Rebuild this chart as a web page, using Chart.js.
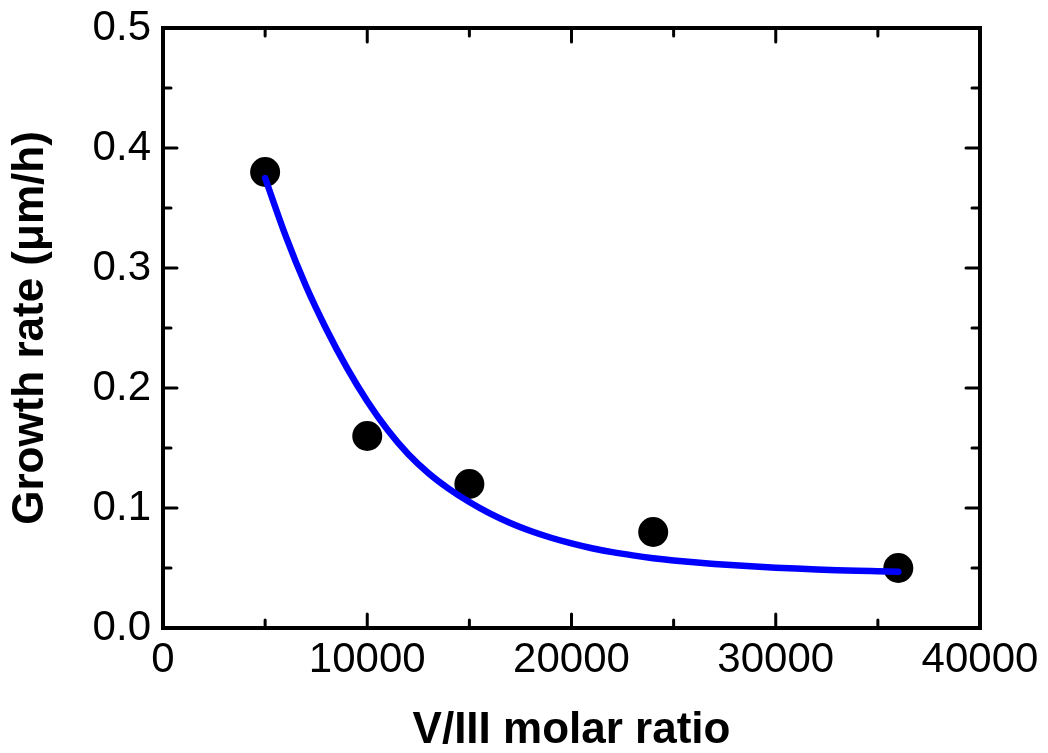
<!DOCTYPE html>
<html>
<head>
<meta charset="utf-8">
<script src="https://cdn.jsdelivr.net/npm/chart.js@4.4.1/dist/chart.umd.min.js"></script>
<style>
  html, body { margin: 0; padding: 0; background: #ffffff; }
  #wrap { width: 1048px; height: 753px; position: relative; }
</style>
</head>
<body>
<div id="wrap"><canvas id="c" width="1048" height="753"></canvas></div>
<script>
// Measured data points
const ratioX = [5000, 10000, 15000, 24000, 36000];
const growthY = [0.38, 0.16, 0.12, 0.08, 0.05];

// Fitted curve
const fitX = [5000, 6000, 7000, 8000, 9000, 10000, 11000, 12000, 13000, 14000, 15000,
  16000, 17000, 18000, 19000, 20000, 21000, 22000, 23000, 24000, 25000, 26000,
  27000, 28000, 29000, 30000, 31000, 32000, 33000, 34000, 35000, 36000];
const fitY = [0.375, 0.327, 0.285, 0.249, 0.217, 0.189, 0.165, 0.145, 0.129, 0.116, 0.105,
  0.0955, 0.0875, 0.0808, 0.0752, 0.0705, 0.0665, 0.0632, 0.0605, 0.0582, 0.0563, 0.0547,
  0.0534, 0.0522, 0.0512, 0.0503, 0.0495, 0.0488, 0.0482, 0.0477, 0.0473, 0.0469];

const xTicks = [0, 10000, 20000, 30000, 40000];
const yTicks = [0.0, 0.1, 0.2, 0.3, 0.4, 0.5];
const xMinor = [5000, 15000, 25000, 35000];
const yMinor = [0.05, 0.15, 0.25, 0.35, 0.45];

const xTitle = 'V/III molar ratio';
const yTitle = 'Growth rate (\u03BCm/h)';

const FONT = '"Liberation Sans", Arial, sans-serif';

const framePlugin = {
  id: 'frame',
  afterDatasetsDraw(chart) {
    const ctx = chart.ctx;
    const a = chart.chartArea;
    const xs = chart.scales.x, ys = chart.scales.y;
    ctx.save();
    ctx.strokeStyle = '#000';
    ctx.lineCap = 'round';
    ctx.lineWidth = 3;
    const major = 14, minor = 8;
    const tickX = (v, len) => {
      const px = xs.getPixelForValue(v);
      ctx.beginPath();
      ctx.moveTo(px, a.bottom); ctx.lineTo(px, a.bottom - len);
      ctx.moveTo(px, a.top); ctx.lineTo(px, a.top + len);
      ctx.stroke();
    };
    const tickY = (v, len) => {
      const py = ys.getPixelForValue(v);
      ctx.beginPath();
      ctx.moveTo(a.left, py); ctx.lineTo(a.left + len, py);
      ctx.moveTo(a.right, py); ctx.lineTo(a.right - len, py);
      ctx.stroke();
    };
    xTicks.forEach(v => tickX(v, major));
    xMinor.forEach(v => tickX(v, minor));
    yTicks.forEach(v => tickY(v, major));
    yMinor.forEach(v => tickY(v, minor));
    ctx.lineWidth = 4;
    ctx.lineCap = 'butt';
    ctx.lineJoin = 'miter';
    ctx.strokeRect(a.left, a.top, a.right - a.left, a.bottom - a.top);
    ctx.restore();
  }
};

const ctx = document.getElementById('c').getContext('2d');
new Chart(ctx, {
  type: 'scatter',
  data: {
    datasets: [
      {
        label: 'fit',
        data: fitX.map((x, i) => ({ x: x, y: fitY[i] })),
        showLine: true,
        borderColor: '#0000ff',
        borderWidth: 6.5,
        borderCapStyle: 'round',
        borderJoinStyle: 'round',
        pointRadius: 0,
        cubicInterpolationMode: 'monotone',
        order: 0
      },
      {
        label: 'data',
        data: ratioX.map((x, i) => ({ x: x, y: growthY[i] })),
        showLine: false,
        backgroundColor: '#000000',
        borderColor: '#000000',
        borderWidth: 0,
        pointRadius: 15,
        order: 1
      }
    ]
  },
  options: {
    responsive: false,
    animation: false,
    layout: { padding: { left: 0, right: 68, top: 28, bottom: 0 } },
    plugins: { legend: { display: false }, tooltip: { enabled: false } },
    scales: {
      x: {
        type: 'linear',
        min: 0, max: 40000,
        afterBuildTicks(s) { s.ticks = xTicks.map(v => ({ value: v })); },
        afterFit(s) { s.height = 125; s.paddingLeft = 0; s.paddingRight = 0; },
        grid: { display: false, drawTicks: false },
        border: { display: false },
        ticks: {
          color: '#000', padding: 7, maxRotation: 0,
          font: { family: FONT, size: 42 },
          callback: v => String(v)
        },
        title: {
          display: true, text: xTitle, color: '#000',
          font: { family: FONT, size: 44, weight: 'bold', lineHeight: 1.0 },
          padding: { top: 10, bottom: 0 }
        }
      },
      y: {
        type: 'linear',
        min: 0, max: 0.5,
        afterBuildTicks(s) { s.ticks = yTicks.map(v => ({ value: v })); },
        afterFit(s) { s.width = 163; s.paddingTop = 0; s.paddingBottom = 0; },
        grid: { display: false, drawTicks: false },
        border: { display: false },
        ticks: {
          color: '#000', padding: 12,
          font: { family: FONT, size: 42 },
          callback: v => Number(v).toFixed(1)
        },
        title: {
          display: true, text: yTitle, color: '#000',
          font: { family: FONT, size: 44, weight: 'bold' },
          padding: { top: 4, bottom: 4 }
        }
      }
    }
  },
  plugins: [framePlugin]
});
</script>
</body>
</html>
